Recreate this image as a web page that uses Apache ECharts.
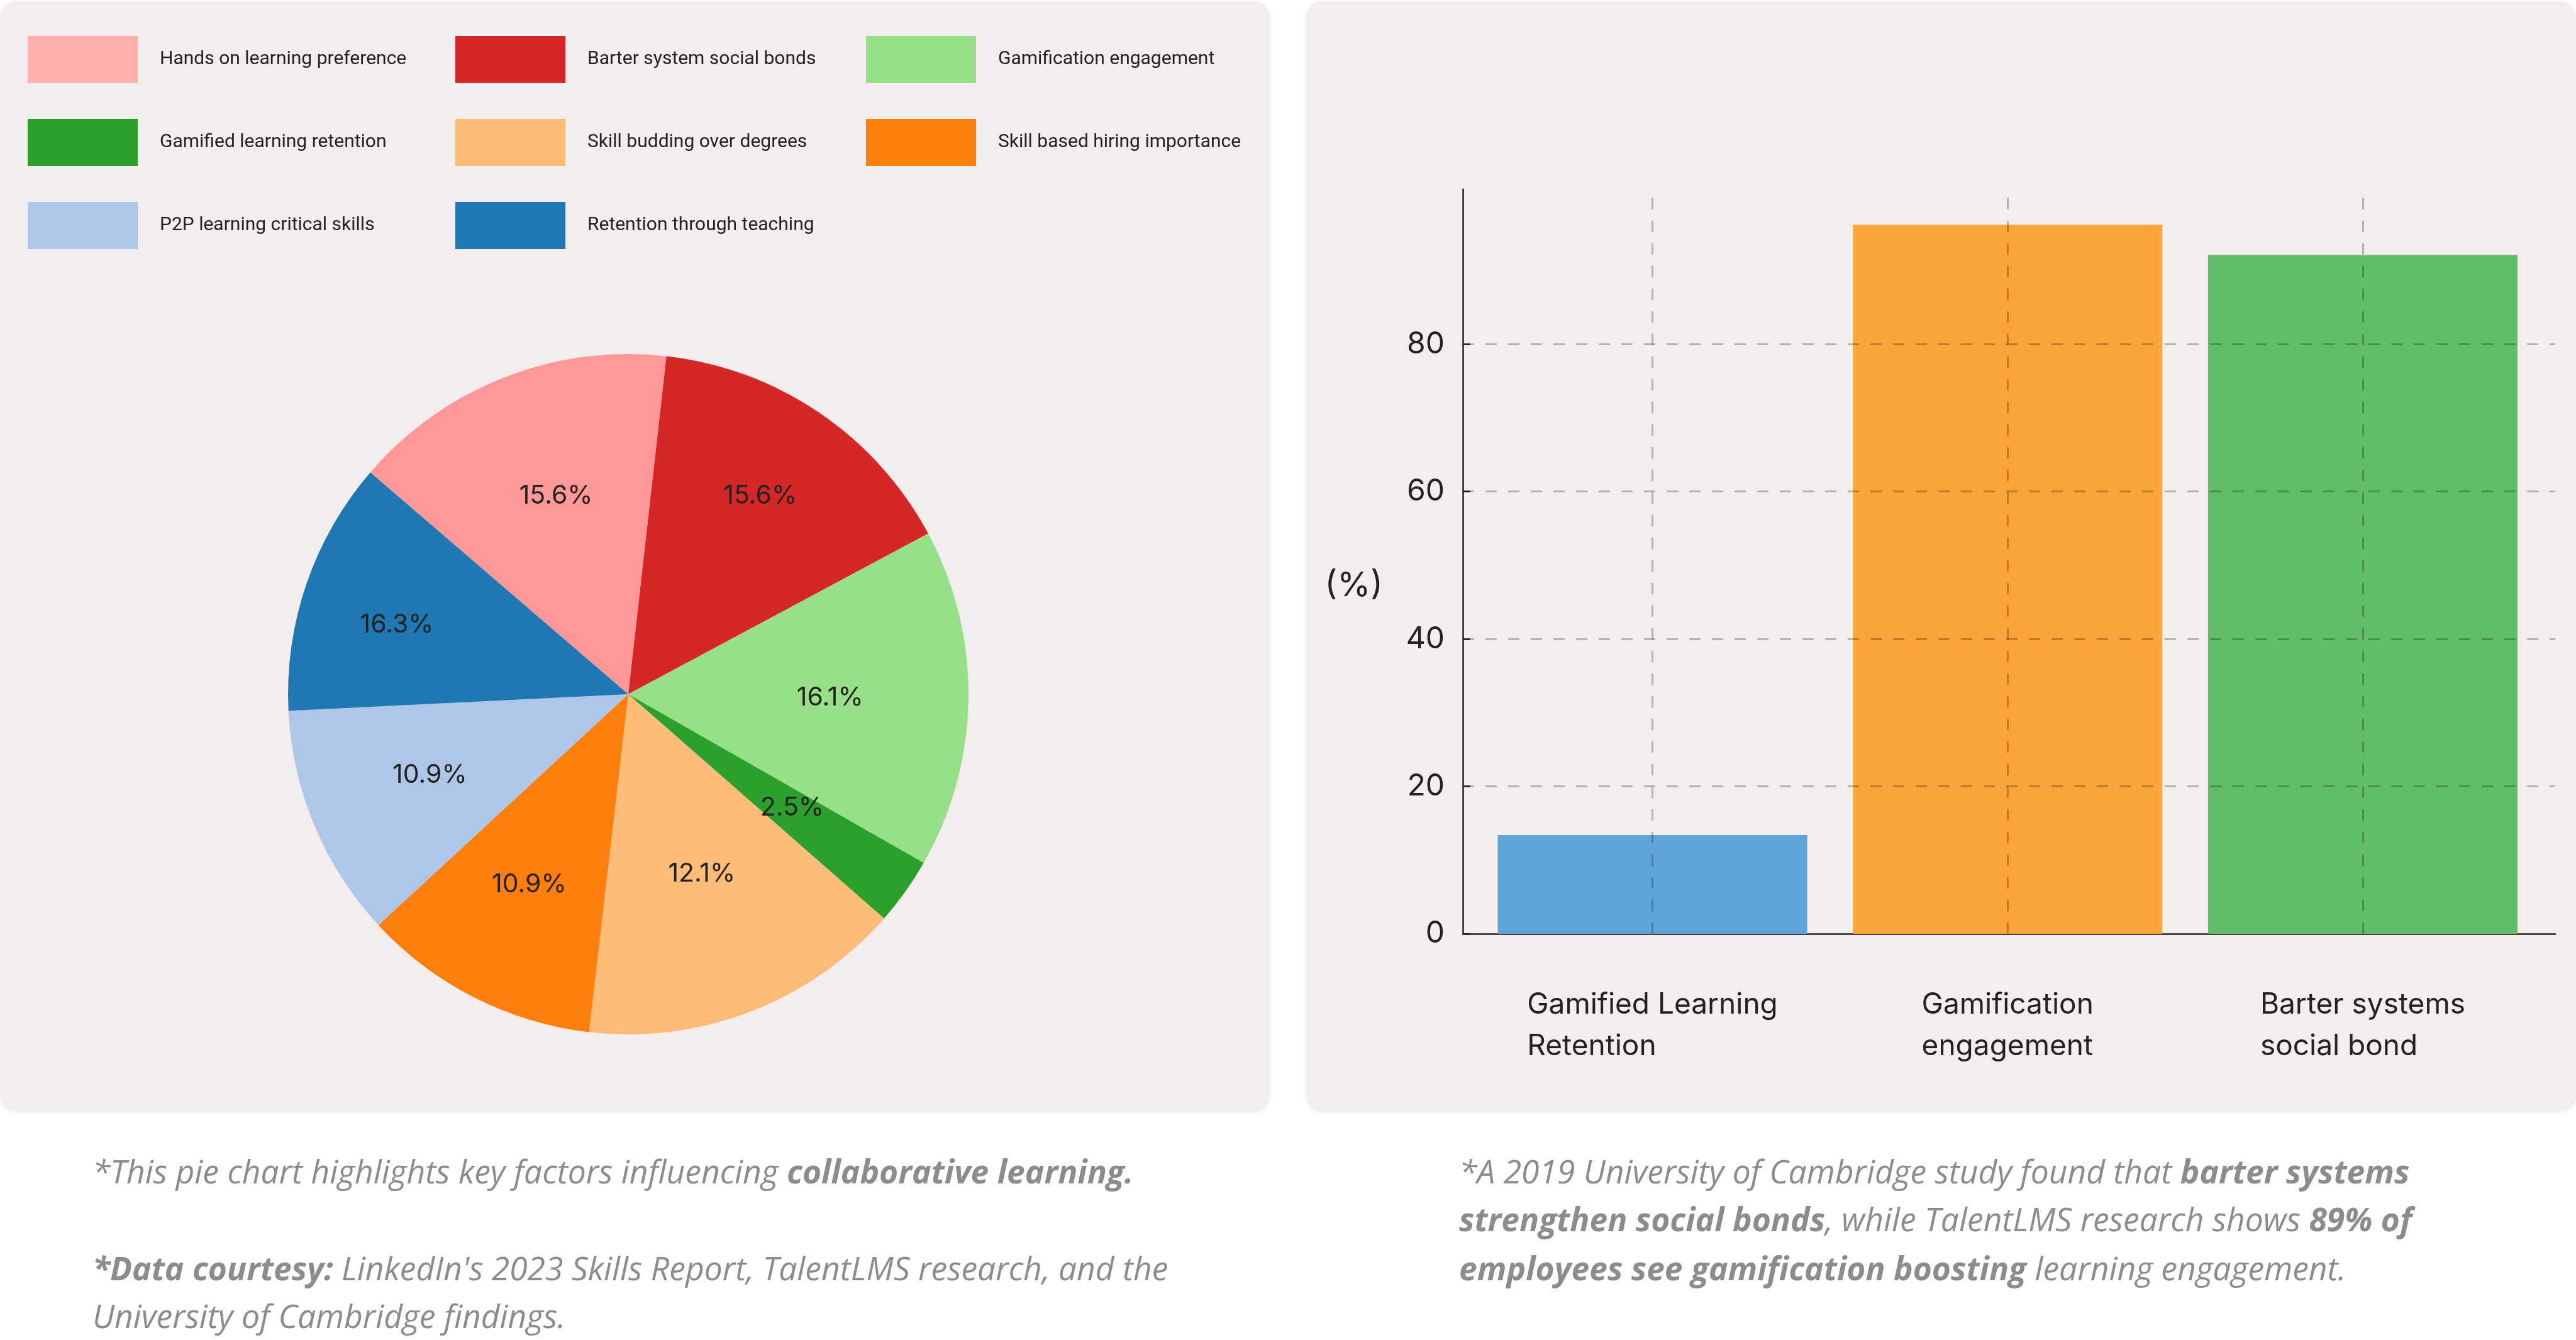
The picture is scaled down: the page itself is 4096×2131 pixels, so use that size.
<!DOCTYPE html>
<html>
<head>
<meta charset="utf-8">
<script src="https://cdn.jsdelivr.net/npm/echarts@6/dist/echarts.min.js"></script>
<style>
  html, body { margin: 0; padding: 0; background: #ffffff; }
  #chart { width: 4096px; height: 2131px; }
</style>
</head>
<body>
<div id="chart"></div>
<script>
// ---- data ----
const pieCategories = [
  'Hands on learning preference',
  'Barter system social bonds',
  'Gamification engagement',
  'Gamified learning retention',
  'Skill budding over degrees',
  'Skill based hiring importance',
  'P2P learning critical skills',
  'Retention through teaching'
];
// slice sizes as drawn in the picture
const pieSliceValues = [15.5, 15.4, 16.1, 3.2, 15.4, 11.3, 11.1, 12.1];
// percentage texts printed on the slices
const pieLabels = ['15.6%', '15.6%', '16.1%', '2.5%', '12.1%', '10.9%', '10.9%', '16.3%'];

const barCategories = [
  'Gamified Learning\nRetention',
  'Gamification\nengagement',
  'Barter systems\nsocial bond'
];
const barValues = [13.4, 96.2, 92.1];
const yTickValues = [0, 20, 40, 60, 80];
const yAxisName = '(%)';

// ---- styles / layout ----
const pieColors = ['#ff9896', '#d62728', '#98df8a', '#2ca02c', '#ffbb78', '#ff7f0e', '#aec7e8', '#1f77b4'];
const legendColors = ['#ffafad', '#d62728', '#98df8a', '#2ca02c', '#ffbb78', '#ff7f0e', '#aec7e8', '#1f77b4'];
// radial distance of each slice label (fraction of radius) and its angular shift from the slice middle (deg, clockwise)
const pieLabelRadius = [0.62, 0.70, 0.593, 0.586, 0.57, 0.63, 0.63, 0.71];
const pieLabelShift = [1.4, -0.5, 0.3, -0.7, -1.2, 0.6, 0.6, -2.3];
const barColors = ['#5da5da', '#faa43a', '#60bd68'];
const legendColX = [44, 724, 1377];
const legendRowY = [57, 189, 321];
const panelBg = '#f3eded';
const FONT = 'Roboto';
const AXFONT = 'Inter';
const CAPFONT = 'Open Sans';
const PIE_CX = 999, PIE_CY = 1104, PIE_R = 541;

const chart = echarts.init(document.getElementById('chart'), null, { renderer: 'canvas' });

const legends = pieCategories.map((name, i) => ({
  show: true,
  orient: 'horizontal',
  left: legendColX[i % 3],
  top: legendRowY[Math.floor(i / 3)],
  padding: 0,
  icon: 'rect',
  itemWidth: 175,
  itemHeight: 75,
  selectedMode: false,
  data: [{ name: name, itemStyle: { color: legendColors[i] } }],
  formatter: n => '{t|' + n + '}',
  textStyle: {
    rich: { t: { fontFamily: FONT, fontSize: 30, color: '#222222', padding: [0, 0, 0, 30] } }
  }
}));

const capNormal = { fontFamily: CAPFONT, fontStyle: 'italic', fontSize: 51.6, fill: '#8c8c8c' };
const capBold = { fontFamily: CAPFONT, fontStyle: 'italic', fontWeight: 'bold', fontSize: 51.6, fill: '#8c8c8c' };
function capLine(x, y, text) {
  return {
    type: 'text', x: x, y: y, z: 10,
    style: { text: text, fill: '#8c8c8c', verticalAlign: 'middle', align: 'left', rich: { n: capNormal, b: capBold } }
  };
}

const yMax = Math.max.apply(null, barValues) * 1.05;

const gridLineStyle = { type: [18, 18], color: 'rgba(0,0,0,0.25)', width: 3 };

const option = {
  backgroundColor: '#ffffff',
  animation: false,
  legend: legends,
  graphic: [
    { type: 'rect', z: -10, shape: { x: 0, y: 2, width: 2019, height: 1764, r: 26 },
      style: { fill: panelBg, shadowBlur: 6, shadowColor: 'rgba(0,0,0,0.10)', shadowOffsetY: 2 } },
    { type: 'rect', z: -10, shape: { x: 2077, y: 2, width: 2019, height: 1764, r: 26 },
      style: { fill: panelBg, shadowBlur: 6, shadowColor: 'rgba(0,0,0,0.10)', shadowOffsetY: 2 } },
    capLine(147, 1867, '{n|*This pie chart highlights key factors influencing }{b|collaborative learning.}'),
    capLine(147, 2021, "{b|*Data courtesy:}{n| LinkedIn's 2023 Skills Report, TalentLMS research, and the}"),
    capLine(147, 2097, '{n|University of Cambridge findings.}'),
    capLine(2320, 1867, '{n|*A 2019 University of Cambridge study found that }{b|barter systems}'),
    capLine(2320, 1943, '{b|strengthen social bonds}{n|, while TalentLMS research shows }{b|89% of}'),
    capLine(2320, 2021, '{b|employees see gamification boosting}{n| learning engagement.}')
  ],
  grid: { left: 2326, top: 301, right: 33, bottom: 646, containLabel: false },
  xAxis: {
    type: 'value',
    min: -0.534,
    max: 2.542,
    splitLine: { show: false },
    axisLine: { show: true, onZero: false, lineStyle: { color: '#222222', width: 2.5 } },
    axisTick: { show: true, inside: true, length: 12, customValues: [0, 1, 2], lineStyle: { color: '#222222', width: 2.5 } },
    axisLabel: {
      show: true,
      customValues: [0, 1, 2],
      margin: 80,
      formatter: v => barCategories[Math.round(v)].split('\n').map(l => '{a|' + l + '}').join('\n'),
      rich: { a: { align: 'left', fontFamily: AXFONT, fontSize: 46, lineHeight: 66, color: '#222222' } }
    }
  },
  yAxis: {
    type: 'value',
    min: 0,
    max: yMax,
    name: yAxisName,
    nameLocation: 'middle',
    nameRotate: 0,
    nameGap: 127,
    nameTextStyle: { fontFamily: AXFONT, fontSize: 54, color: '#222222', verticalAlign: 'top', padding: [12, 0, 0, 0] },
    splitLine: { show: false },
    axisLine: { show: true, onZero: false, lineStyle: { color: '#222222', width: 2.5 } },
    axisTick: { show: true, inside: true, length: 12, customValues: yTickValues, lineStyle: { color: '#222222', width: 2.5 } },
    axisLabel: { show: true, customValues: yTickValues, margin: 29, fontFamily: AXFONT, fontSize: 48, color: '#222222' }
  },
  series: [
    {
      type: 'pie',
      name: 'main',
      center: [PIE_CX, PIE_CY],
      radius: [0, PIE_R],
      startAngle: 139.3,
      clockwise: true,
      avoidLabelOverlap: false,
      silent: true,
      label: { show: false },
      labelLine: { show: false },
      data: pieCategories.map((n, i) => ({ name: n, value: pieSliceValues[i], itemStyle: { color: pieColors[i] } }))
    },
    {
      type: 'pie',
      name: 'labels',
      center: [PIE_CX, PIE_CY],
      radius: [PIE_R * 0.2, PIE_R],
      startAngle: 139.3,
      clockwise: true,
      avoidLabelOverlap: false,
      silent: true,
      z: 3,
      itemStyle: { color: 'rgba(0,0,0,0)', borderWidth: 0 },
      label: {
        show: true,
        position: 'inside',
        fontFamily: AXFONT,
        fontSize: 41,
        color: '#222222',
        formatter: p => pieLabels[p.dataIndex]
      },
      labelLayout: params => {
        const r = params.labelRect;
        const lx = r.x + r.width / 2 - PIE_CX;
        const ly = r.y + r.height / 2 - PIE_CY;
        const i = params.dataIndex;
        const ang = Math.atan2(ly, lx) + pieLabelShift[i] * Math.PI / 180;
        const rad = pieLabelRadius[i] * PIE_R;
        return { dx: rad * Math.cos(ang) - lx, dy: rad * Math.sin(ang) - ly };
      },
      labelLine: { show: false },
      data: pieCategories.map((n, i) => ({ name: n, value: pieSliceValues[i] }))
    },
    {
      type: 'bar',
      barWidth: 492,
      data: barValues.map((v, i) => [i, v]),
      itemStyle: { color: p => barColors[p.dataIndex] },
      markLine: {
        silent: true,
        symbol: ['none', 'none'],
        label: { show: false },
        lineStyle: gridLineStyle,
        data: yTickValues.filter(v => v > 0).map(v => ({ yAxis: v }))
          .concat(barCategories.map((c, i) => ({ xAxis: i })))
      }
    }
  ]
};

chart.setOption(option);
</script>
</body>
</html>
